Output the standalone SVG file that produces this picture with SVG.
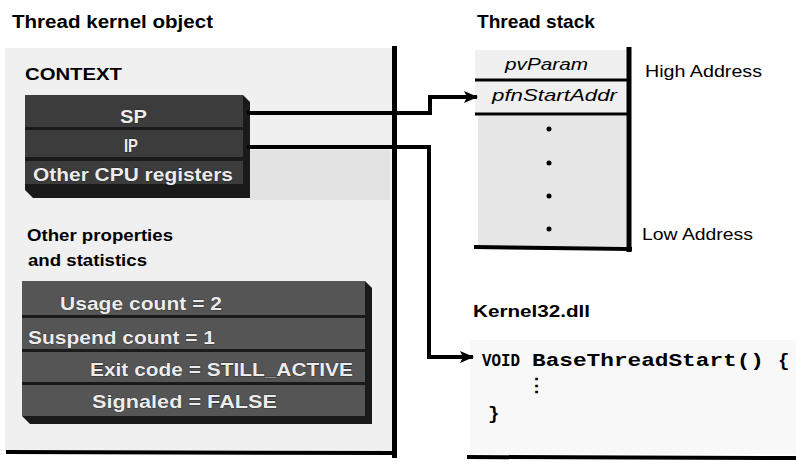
<svg xmlns="http://www.w3.org/2000/svg" width="796" height="465" viewBox="0 0 796 465">
  <style>
    .title { font-family: "Liberation Sans", Arial, sans-serif; font-size: 18px; font-weight: bold; fill: #000; }
    .lbl { font-family: "Liberation Sans", Arial, sans-serif; font-size: 17px; fill: #000; }
    .lblb { font-family: "Liberation Sans", Arial, sans-serif; font-size: 17px; font-weight: bold; fill: #000; }
    .bar { font-family: "Liberation Sans", Arial, sans-serif; font-size: 19px; font-weight: bold; fill: #ececec; stroke: #111; stroke-width: 0.6px; paint-order: stroke; }
    .it { font-family: "Liberation Sans", Arial, sans-serif; font-size: 17px; font-style: italic; fill: #000; }
    .code { font-family: "Liberation Mono", "Courier New", monospace; font-size: 19px; font-weight: bold; fill: #000; }
    .thick { stroke: #000; stroke-width: 4; fill: none; }
    .conn { stroke: #000; stroke-width: 4; fill: none; }
  </style>
  <defs>
    <marker id="arrow" markerWidth="14" markerHeight="12" refX="13" refY="6" orient="auto" markerUnits="userSpaceOnUse">
      <path d="M0,0 L14,6 L0,12 L3,6 Z" fill="#000"/>
    </marker>
  </defs>
  <rect width="796" height="465" fill="#fff"/>

  <g id="thread-kernel-object">
    <text class="title" x="12" y="28" textLength="201" lengthAdjust="spacingAndGlyphs">Thread kernel object</text>
    <rect x="5" y="48" width="388" height="404" fill="#f0f0f0"/>
    <rect x="250" y="150" width="140" height="50" fill="#e3e3e3"/>
    <line class="thick" x1="394.5" y1="46" x2="394.5" y2="458" style="stroke-width:5"/>
    <line class="thick" x1="6" y1="452" x2="397" y2="453"/>
    <text class="lblb" x="25" y="80" font-size="18" textLength="97" lengthAdjust="spacingAndGlyphs">CONTEXT</text>

    <g id="context-registers">
      <polygon points="25,95 243,95 250,102 250,198 33,198 25,190" fill="#1a1a1a"/>
      <rect x="25" y="95" width="218" height="32" fill="#3c3c3c"/>
      <rect x="25" y="130" width="218" height="27" fill="#3c3c3c"/>
      <rect x="25" y="161" width="218" height="23" fill="#3c3c3c"/>
      <text class="bar" x="120" y="123" font-size="20" textLength="27" lengthAdjust="spacingAndGlyphs">SP</text>
      <text class="bar" x="124" y="152" font-size="20" textLength="14" lengthAdjust="spacingAndGlyphs">IP</text>
      <text class="bar" x="33" y="181" textLength="200" lengthAdjust="spacingAndGlyphs">Other CPU registers</text>
    </g>

    <text class="lblb" x="27" y="241" textLength="146" lengthAdjust="spacingAndGlyphs">Other properties</text>
    <text class="lblb" x="28" y="266" textLength="119" lengthAdjust="spacingAndGlyphs">and statistics</text>

    <g id="statistics">
      <polygon points="22,281 365,281 372,288 372,424 30,424 22,416" fill="#1a1a1a"/>
      <rect x="22" y="281" width="343" height="34" fill="#555"/>
      <rect x="22" y="318" width="343" height="31" fill="#555"/>
      <rect x="22" y="352" width="343" height="30" fill="#555"/>
      <rect x="22" y="385" width="343" height="31" fill="#555"/>
      <text class="bar" x="60" y="310" textLength="162" lengthAdjust="spacingAndGlyphs">Usage count = 2</text>
      <text class="bar" x="28" y="344" textLength="187" lengthAdjust="spacingAndGlyphs">Suspend count = 1</text>
      <text class="bar" x="90" y="376" textLength="263" lengthAdjust="spacingAndGlyphs">Exit code = STILL_ACTIVE</text>
      <text class="bar" x="92" y="408" textLength="185" lengthAdjust="spacingAndGlyphs">Signaled = FALSE</text>
    </g>
  </g>

  <g id="thread-stack">
    <text class="title" x="477" y="28" textLength="118" lengthAdjust="spacingAndGlyphs">Thread stack</text>
    <rect x="475" y="50" width="152" height="64" fill="#f0f0f0"/>
    <rect x="478" y="116" width="148" height="130" fill="#e6e6e6"/>
    <line class="thick" x1="475" y1="80" x2="627" y2="80" style="stroke-width:3"/>
    <line class="thick" x1="475" y1="114" x2="627" y2="114" style="stroke-width:3"/>
    <line class="thick" x1="629" y1="47" x2="629" y2="252" style="stroke-width:5"/>
    <line class="thick" x1="474" y1="247" x2="632" y2="249" style="stroke-width:4"/>
    <text class="it" x="505" y="70" textLength="83" lengthAdjust="spacingAndGlyphs">pvParam</text>
    <text class="it" x="492" y="101" textLength="125" lengthAdjust="spacingAndGlyphs">pfnStartAddr</text>
    <circle cx="549" cy="129" r="2.5" fill="#000"/>
    <circle cx="549" cy="163" r="2.5" fill="#000"/>
    <circle cx="549" cy="196" r="2.5" fill="#000"/>
    <circle cx="549" cy="229" r="2.5" fill="#000"/>
    <text class="lbl" x="645" y="77" textLength="117" lengthAdjust="spacingAndGlyphs">High Address</text>
    <text class="lbl" x="642" y="240" textLength="111" lengthAdjust="spacingAndGlyphs">Low Address</text>
  </g>

  <g id="kernel32">
    <text class="lblb" x="473" y="317" textLength="117" lengthAdjust="spacingAndGlyphs">Kernel32.dll</text>
    <rect x="470" y="340" width="326" height="114" fill="#f8f8f8"/>
    <text class="code" y="366"><tspan x="482" textLength="38" lengthAdjust="spacingAndGlyphs">VOID</tspan><tspan x="532" textLength="232" lengthAdjust="spacingAndGlyphs">BaseThreadStart()</tspan><tspan x="778">{</tspan></text>
    <text class="code" x="527" y="392" font-size="16">⋮</text>
    <text class="code" x="488" y="419">}</text>
    <line class="thick" x1="467" y1="457" x2="796" y2="458"/>
  </g>

  <g id="connectors">
    <polyline class="conn" points="247,113 430,113 430,97 477,97" marker-end="url(#arrow)"/>
    <polyline class="conn" points="247,147 429,147 429,357 473,357" marker-end="url(#arrow)"/>
  </g>
</svg>
